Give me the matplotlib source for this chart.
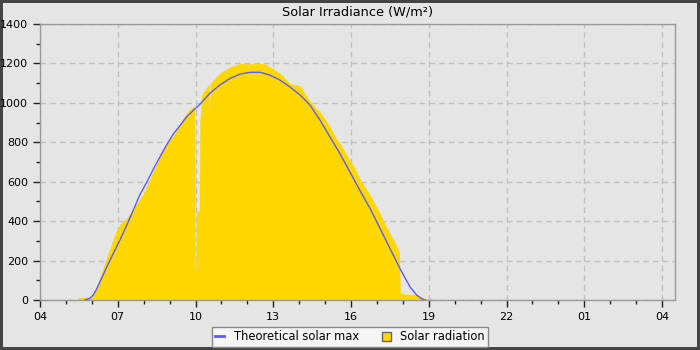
import pandas as pd
import matplotlib
matplotlib.use("Agg")
import matplotlib.pyplot as plt
import matplotlib.dates as mdates
from matplotlib.ticker import MultipleLocator

DAY = "2024-06-21 "

# measured solar radiation (W/m2)
rad_times = ["05:27", "05:28", "05:45", "06:00", "06:11", "06:19", "06:30", "06:42",
             "06:54", "07:05", "07:21", "07:32", "07:44", "07:55", "08:07", "08:18",
             "08:34", "08:45", "08:57", "09:12", "09:24", "09:36", "09:47", "09:58",
             "09:59", "10:01", "10:02", "10:09", "10:10", "10:14", "10:32", "10:33",
             "10:34", "10:45", "10:56", "11:08", "11:20", "11:31", "11:43", "12:00",
             "12:20", "12:41", "12:52", "13:04", "13:15", "13:27", "13:38", "13:50",
             "14:02", "14:13", "14:25", "14:36", "14:48", "14:59", "15:11", "15:23",
             "15:34", "15:46", "15:57", "16:09", "16:20", "16:32", "16:44", "16:55",
             "17:07", "17:18", "17:30", "17:41", "17:52", "17:54", "18:05", "18:30",
             "18:40", "18:51", "19:07", "19:08"]
rad_values = [0, 10, 14, 18, 68, 118, 186, 262,
              338, 385, 414, 456, 490, 524, 575, 634,
              710, 761, 803, 845, 896, 938, 972, 980,
              152, 152, 440, 456, 904, 1040, 1099, 938,
              1100, 1124, 1150, 1167, 1183, 1192, 1200, 1198,
              1200, 1198, 1183, 1167, 1150, 1124, 1099, 1092,
              1088, 1048, 1010, 980, 955, 921, 879, 830,
              795, 752, 710, 668, 617, 575, 533, 490,
              440, 389, 338, 296, 245, 34, 30, 28,
              20, 8, 8, 0]

# theoretical clear-sky maximum (W/m2)
max_times = ["05:44", "05:55", "06:03", "06:11", "06:19", "06:34", "06:50", "07:05",
             "07:21", "07:36", "07:51", "08:07", "08:22", "08:38", "08:53", "09:08",
             "09:24", "09:40", "09:55", "10:10", "10:33", "10:56", "11:20", "11:43",
             "12:07", "12:30", "12:52", "13:15", "13:38", "14:02", "14:25", "14:48",
             "15:11", "15:34", "15:57", "16:20", "16:44", "17:07", "17:30", "17:53",
             "18:16", "18:32", "18:41", "18:47", "18:52"]
max_values = [0, 8, 25, 55, 93, 165, 237, 304,
              380, 456, 533, 597, 662, 727, 786, 840,
              885, 930, 962, 992, 1048, 1090, 1124, 1146,
              1155, 1155, 1141, 1116, 1082, 1040, 989, 913,
              828, 744, 651, 558, 465, 364, 262, 161,
              68, 25, 10, 3, 0]

labels = ["Theoretical solar max", "Solar radiation"]


def main():
    bg = "#e5e5e5"
    rt = pd.to_datetime([DAY + t for t in rad_times])
    mt = pd.to_datetime([DAY + t for t in max_times])

    fig = plt.figure(figsize=(7, 3.5), dpi=100, facecolor=bg)
    fig.patch.set_edgecolor("#444444")
    fig.patch.set_linewidth(4)
    ax = fig.add_axes([40 / 700, 50 / 350, 635 / 700, 276 / 350])
    ax.set_facecolor(bg)

    ax.fill_between(rt, rad_values, 0, color="#ffd700", linewidth=0, zorder=2)
    ax.plot(mt, max_values, color="#5a5aff", linewidth=1, zorder=3)

    ax.set_xlim(pd.Timestamp(DAY + "04:00"), pd.Timestamp(DAY + "04:30") + pd.Timedelta(days=1))
    ax.set_ylim(0, 1400)
    ax.xaxis.set_major_locator(mdates.HourLocator(byhour=[1, 4, 7, 10, 13, 16, 19, 22]))
    ax.xaxis.set_minor_locator(mdates.HourLocator())
    ax.xaxis.set_major_formatter(mdates.DateFormatter("%H"))
    ax.yaxis.set_major_locator(MultipleLocator(200))
    ax.yaxis.set_minor_locator(MultipleLocator(100))

    ax.grid(True, which="major", color="#c0c0c0", linestyle=(0, (4, 3)), linewidth=1, zorder=1)
    ax.set_axisbelow(True)
    for s in ax.spines.values():
        s.set_color("#999999")
        s.set_linewidth(1)
    ax.tick_params(which="major", length=5, width=1, labelsize=8, color="#222222")
    ax.tick_params(which="minor", length=3, width=1, color="#222222")

    ax.set_title("Solar Irradiance (W/m²)", fontsize=9.3, pad=6)

    h1 = plt.Line2D([], [], color="#5a5aff", linewidth=2)
    h2 = plt.Rectangle((0, 0), 1, 1, facecolor="#ffd700", edgecolor="#666666", linewidth=1)
    leg = fig.legend([h1, h2], labels, loc="lower center", bbox_to_anchor=(0.5, 0.009),
                     ncol=2, fontsize=8.3, fancybox=False, framealpha=1,
                     facecolor="#f5f5f5", edgecolor="#888888",
                     handlelength=0.8, handleheight=0.8, columnspacing=2.0,
                     borderpad=0.3, borderaxespad=0)
    leg.get_frame().set_linewidth(1)

    fig.savefig("out.png", dpi=100, facecolor=bg, edgecolor="#444444")


main()
